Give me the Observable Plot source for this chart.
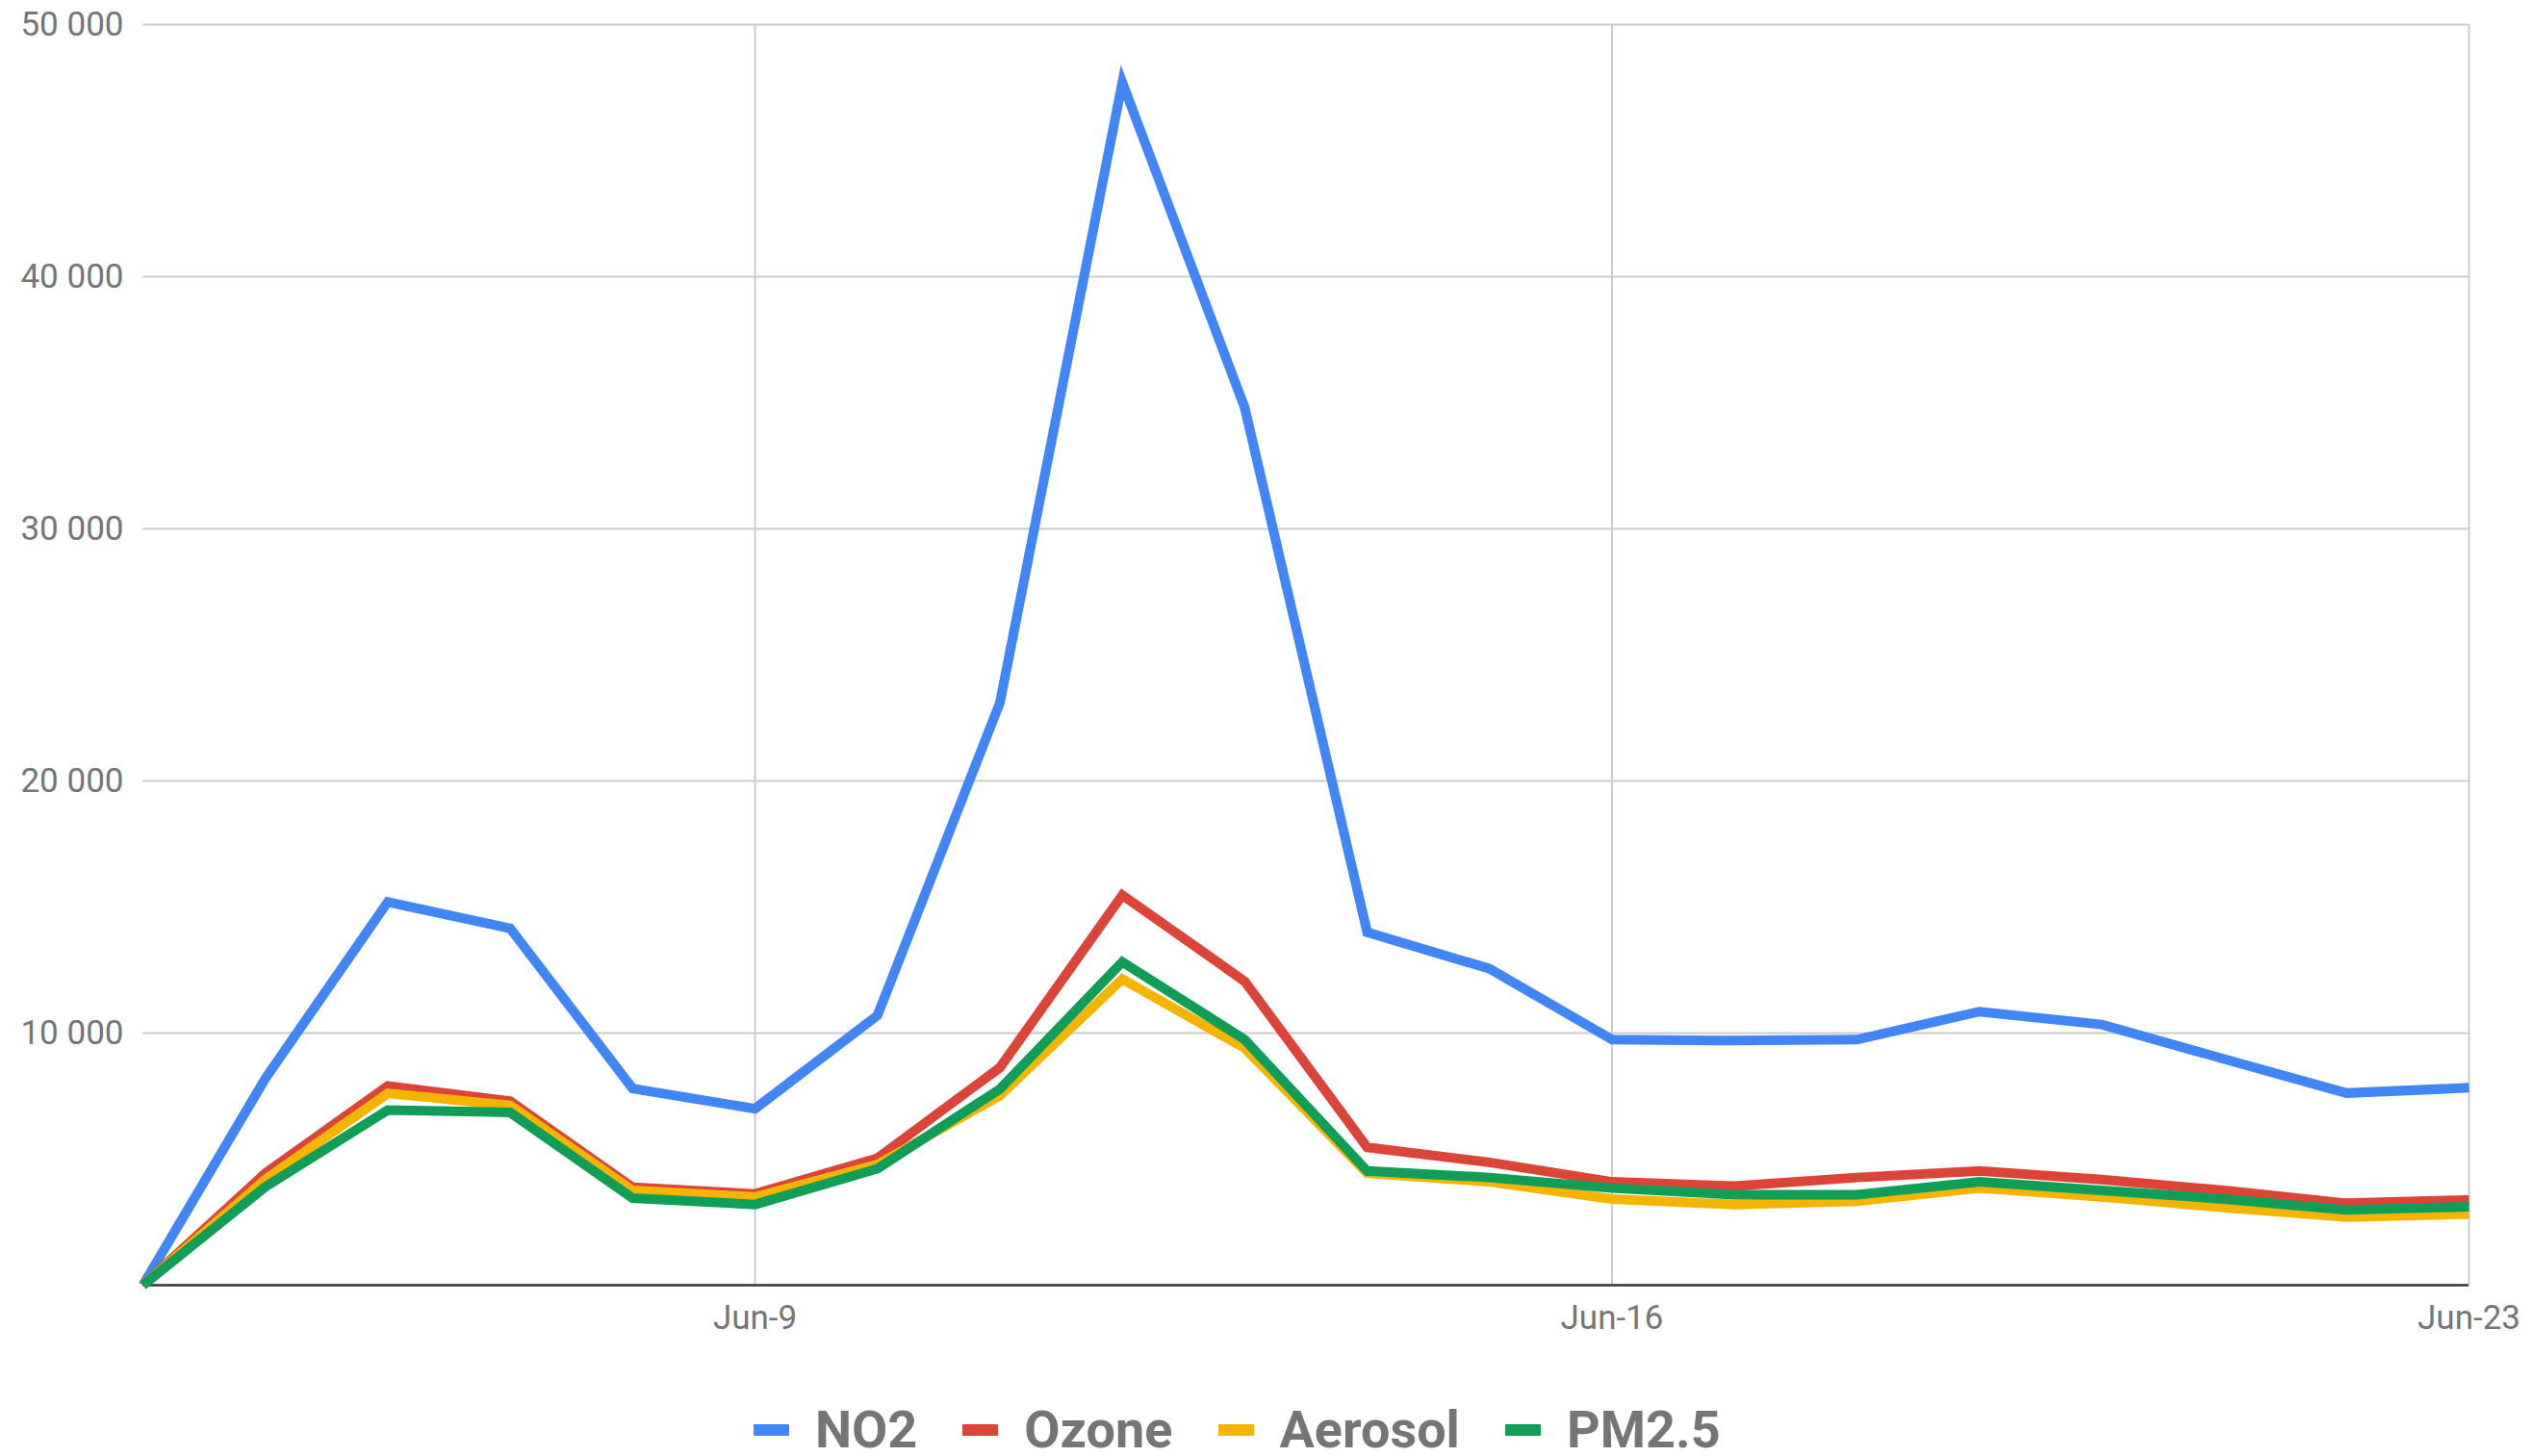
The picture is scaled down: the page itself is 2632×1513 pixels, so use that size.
<!DOCTYPE html>
<html>
<head>
<meta charset="utf-8">
<script src="https://cdn.jsdelivr.net/npm/d3@7"></script>
<script src="https://cdn.jsdelivr.net/npm/@observablehq/plot@0.6"></script>
<style>
html, body { margin: 0; padding: 0; background: #ffffff; }
body { width: 2632px; height: 1513px; overflow: hidden; position: relative; font-family: Roboto, sans-serif; }
#chart { position: absolute; left: 0; top: 0; }
#legend { position: absolute; left: 783px; top: 1454px; display: flex; align-items: center;
  font-family: Roboto, sans-serif; font-weight: bold; font-size: 54px; line-height: 64px; color: #757575; white-space: nowrap; }
.item { display: flex; align-items: center; margin-right: 47px; }
.sw { width: 37px; height: 12px; margin-right: 27px; border-radius: 1px; }
</style>
</head>
<body>
<div id="chart"></div>
<div id="legend"></div>
<script>
const dates = [
  "2020-06-04","2020-06-05","2020-06-06","2020-06-07","2020-06-08",
  "2020-06-09","2020-06-10","2020-06-11","2020-06-12","2020-06-13",
  "2020-06-14","2020-06-15","2020-06-16","2020-06-17","2020-06-18",
  "2020-06-19","2020-06-20","2020-06-21","2020-06-22","2020-06-23"
];
const seriesNames = ["NO2", "Ozone", "Aerosol", "PM2.5"];
const seriesColors = ["#4285F4", "#DB4437", "#F4B400", "#0F9D58"];

const no2     = [0, 8200, 15200, 14150, 7800, 7000, 10700, 23100, 47700, 34800, 14000, 12550, 9740, 9700, 9740, 10850, 10340, 8970, 7620, 7830];
const ozone   = [0, 4440, 7900, 7300, 3880, 3620, 5040, 8630, 15470, 12050, 5470, 4870, 4100, 3930, 4270, 4530, 4190, 3760, 3250, 3380];
const aerosol = [0, 4190, 7610, 7130, 3760, 3500, 4790, 7520, 12140, 9400, 4440, 4100, 3420, 3200, 3330, 3850, 3500, 3080, 2700, 2820];
const pm25    = [0, 3900, 6950, 6850, 3450, 3200, 4620, 7780, 12820, 9740, 4530, 4270, 3850, 3590, 3590, 4100, 3760, 3420, 2990, 3110];

const yTicks = [10000, 20000, 30000, 40000, 50000];
const xTickDates = ["2020-06-09", "2020-06-16", "2020-06-23"];

const parse = d3.utcParse("%Y-%m-%d");
const seriesValues = [no2, ozone, aerosol, pm25];
const table = [];
seriesNames.forEach((s, k) => {
  dates.forEach((d, i) => table.push({ series: s, date: parse(d), value: seriesValues[k][i] }));
});
const xTicks = xTickDates.map(parse);
const fmtY = d => d3.format(",")(d).replace(/,/g, " ");
const fmtX = d3.utcFormat("%b-%-d");

const chart = Plot.plot({
  width: 2632,
  height: 1420,
  marginLeft: 148,
  marginRight: 67,
  marginTop: 25,
  marginBottom: 85,
  style: { fontFamily: "Roboto, sans-serif", fontSize: "35px", color: "#757575", background: "#ffffff" },
  x: { type: "utc", domain: [parse(dates[0]), parse(dates[dates.length - 1])] },
  y: { domain: [0, 50000] },
  color: { domain: seriesNames, range: seriesColors },
  marks: [
    Plot.gridY(yTicks, { stroke: "#cccccc", strokeOpacity: 1, strokeWidth: 2 }),
    Plot.gridX(xTicks, { stroke: "#cccccc", strokeOpacity: 1, strokeWidth: 2 }),
    Plot.axisY(yTicks, { tickSize: 0, tickPadding: 20, tickFormat: fmtY, label: null, fontSize: 35 }),
    Plot.axisX(xTicks, { tickSize: 0, tickPadding: 21, tickFormat: fmtX, label: null, fontSize: 35 }),
    Plot.ruleY([0], { stroke: "#333333", strokeWidth: 2.5 }),
    Plot.line(table, { x: "date", y: "value", z: "series", stroke: "series", strokeWidth: 10,
      strokeLinejoin: "miter", strokeMiterlimit: 10, strokeLinecap: "butt" })
  ]
});
document.getElementById("chart").appendChild(chart);

const legend = document.getElementById("legend");
seriesNames.forEach((s, k) => {
  const item = document.createElement("div");
  item.className = "item";
  const sw = document.createElement("div");
  sw.className = "sw";
  sw.style.background = seriesColors[k];
  const t = document.createElement("span");
  t.textContent = s;
  item.appendChild(sw);
  item.appendChild(t);
  legend.appendChild(item);
});
</script>
</body>
</html>
